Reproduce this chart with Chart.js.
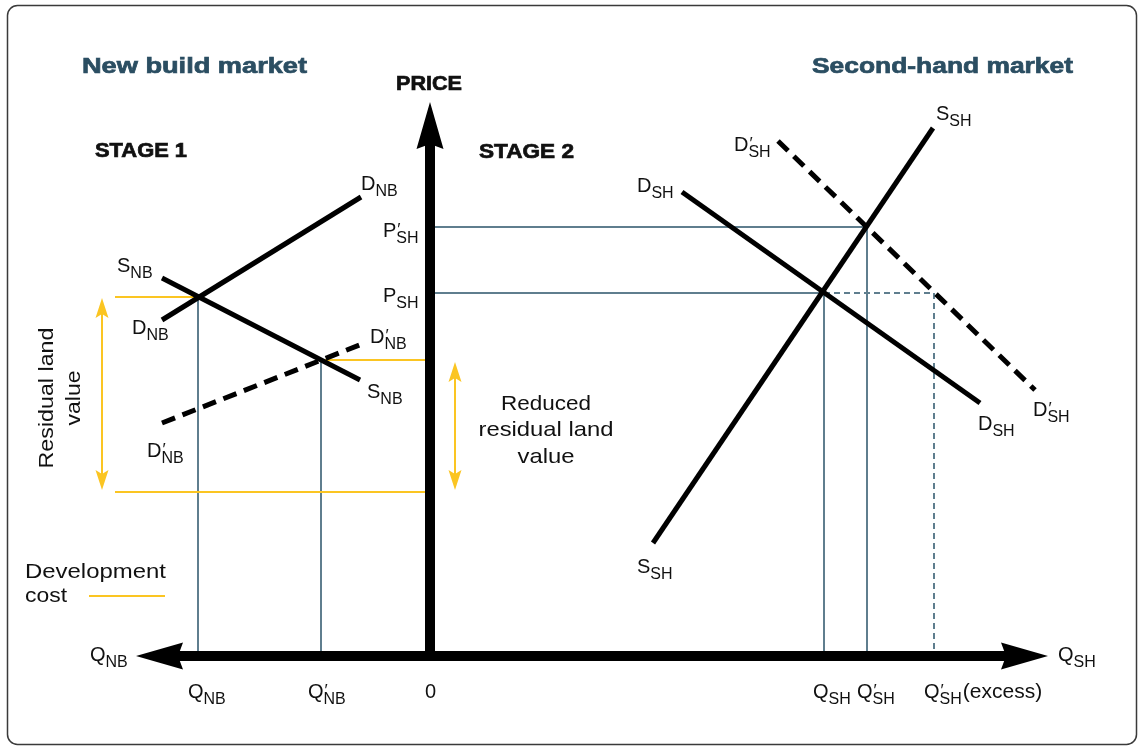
<!DOCTYPE html>
<html lang="en">
<head>
<meta charset="UTF-8">
<title>New build and second-hand housing markets</title>
<script src="https://cdn.jsdelivr.net/npm/chart.js"></script>
<style>
  body { margin: 0; background: #fff; }
  canvas { display: block; }
</style>
</head>
<body>
<canvas id="market" width="1143" height="748"></canvas>
<script>
// x: quantity (new build to the left of 0, second-hand to the right), y: price
const dNB      = [[-268, 336], [-69, 459]];
const sNB      = [[-268, 378], [-70, 276]];
const dNBshift = [[-268, 233], [-68, 312]];
const dSH      = [[252, 464], [550, 253]];
const dSHshift = [[348, 515], [605, 266]];
const sSH      = [[223, 113], [503, 528]];

const eqNB      = [-232, 359];
const eqNBshift = [-109, 296];
const eqSH      = [394, 363];
const eqSHshift = [437, 429];
const qExcess   = 504;
const devCost   = 164;

const axisEnds = { left: -294, right: 618, top: 554 };

const GREY = '#5f7e8e', YELLOW = '#fbc522', INK = '#111', TITLE = '#2b4e62';

const pts = arr => arr.map(([x, y]) => ({ x, y }));
function seg(data, color, width, dash, order) {
  return {
    data: pts(data), showLine: true, borderColor: color, borderWidth: width,
    borderDash: dash || [], pointRadius: 0, order: order, clip: false
  };
}

const datasets = [
  // axes on top
  seg([[axisEnds.left + 40, 0], [axisEnds.right - 40, 0]], '#000', 10, null, 0),
  seg([[0, -5], [0, axisEnds.top - 40]], '#000', 10, null, 0),
  // curves
  seg(dNB, '#000', 5, null, 1),
  seg(sNB, '#000', 5, null, 1),
  seg(dNBshift, '#000', 5, [14, 8], 1),
  seg(dSH, '#000', 5, null, 1),
  seg(dSHshift, '#000', 5, [14, 8], 1),
  seg(sSH, '#000', 5, null, 1),
  // development cost / residual value
  seg([[-315, eqNB[1]], eqNB], YELLOW, 2, null, 2),
  seg([eqNBshift, [-5, eqNBshift[1]]], YELLOW, 2, null, 2),
  seg([[-315, devCost], [-5, devCost]], YELLOW, 2, null, 2),
  seg([[-328, devCost + 14], [-328, eqNB[1] - 14]], YELLOW, 2, null, 2),
  seg([[25, devCost + 14], [25, eqNBshift[1] - 14]], YELLOW, 2, null, 2),
  seg([[-341, 60], [-265, 60]], YELLOW, 2, null, 2),
  // price / quantity guides
  seg([[eqNB[0], 0], eqNB], GREY, 2, null, 3),
  seg([[eqNBshift[0], 0], eqNBshift], GREY, 2, null, 3),
  seg([[0, eqSH[1]], eqSH, [eqSH[0], 0]], GREY, 2, null, 3),
  seg([[0, eqSHshift[1]], eqSHshift, [eqSHshift[0], 0]], GREY, 2, null, 3),
  seg([eqSH, [qExcess, eqSH[1]], [qExcess, 0]], GREY, 2, [6, 4], 3)
];

const curveLabels = [
  { t: 'D', sub: 'NB', at: [-69, 466] },
  { t: 'D', sub: 'NB', at: [-298, 322] },
  { t: 'S', sub: 'NB', at: [-313, 384] },
  { t: 'S', sub: 'NB', at: [-63, 258] },
  { t: 'D', sub: 'NB', prime: true, at: [-60, 313] },
  { t: 'D', sub: 'NB', prime: true, at: [-283, 199] },
  { t: 'P', sub: 'SH', prime: true, at: [-47, 419] },
  { t: 'P', sub: 'SH', at: [-47, 354] },
  { t: 'D', sub: 'SH', at: [207, 464] },
  { t: 'D', sub: 'SH', prime: true, at: [304, 505] },
  { t: 'S', sub: 'SH', at: [506, 536] },
  { t: 'D', sub: 'SH', at: [548, 226] },
  { t: 'D', sub: 'SH', prime: true, at: [603, 240] },
  { t: 'S', sub: 'SH', at: [207, 83] },
  { t: 'Q', sub: 'SH', at: [628, -5] },
  { t: 'Q', sub: 'NB', at: [-340, -5] },
  { t: 'Q', sub: 'NB', at: [-242, -42] },
  { t: 'Q', sub: 'NB', prime: true, at: [-122, -42] },
  { t: '0', at: [-5, -42] },
  { t: 'Q', sub: 'SH', at: [383, -42] },
  { t: 'Q', sub: 'SH', prime: true, at: [427, -42] },
  { t: 'Q', sub: 'SH', prime: true, tail: '(excess)', at: [494, -42] }
];

const texts = [
  { t: 'New build market', at: [-348, 583], w: 225, font: 'bold 22px', color: TITLE, heavy: true },
  { t: 'Second-hand market', at: [382, 583], w: 261, font: 'bold 22px', color: TITLE, heavy: true },
  { t: 'STAGE 1', at: [-335, 499], w: 92, font: 'bold 20px', heavy: true },
  { t: 'STAGE 2', at: [49, 498], w: 95, font: 'bold 20px', heavy: true },
  { t: 'PRICE', at: [-34, 566], w: 66, font: 'bold 20px', heavy: true },
  { t: 'Residual land', at: [-377, 258], w: 141, font: '21px', rotate: true },
  { t: 'value', at: [-350, 258], w: 55, font: '21px', rotate: true },
  { t: 'Reduced', at: [116, 246], w: 90, font: '21px', center: true },
  { t: 'residual land', at: [116, 220], w: 135, font: '21px', center: true },
  { t: 'value', at: [116, 193], w: 57, font: '21px', center: true },
  { t: 'Development', at: [-405, 78], w: 141, font: '21px' },
  { t: 'cost', at: [-405, 54], w: 42, font: '21px' }
];

const FAMILY = "'Liberation Sans', Arial, sans-serif";

function arrowHead(ctx, x, y, dir, len, half, notch, color) {
  ctx.save();
  ctx.translate(x, y);
  ctx.rotate(dir);
  ctx.beginPath();
  ctx.moveTo(0, 0);
  ctx.lineTo(-len, -half);
  ctx.lineTo(-len + notch, 0);
  ctx.lineTo(-len, half);
  ctx.closePath();
  ctx.fillStyle = color;
  ctx.fill();
  ctx.restore();
}

const framePlugin = {
  id: 'frame',
  beforeDraw(chart) {
    const ctx = chart.ctx;
    ctx.save();
    ctx.fillStyle = '#fff';
    ctx.fillRect(0, 0, chart.width, chart.height);
    ctx.beginPath();
    ctx.roundRect(7.5, 5.5, 1129, 739, 10);
    ctx.strokeStyle = '#3a3a3a';
    ctx.lineWidth = 1.5;
    ctx.stroke();
    ctx.restore();
  }
};

const annotatePlugin = {
  id: 'annotate',
  afterDatasetsDraw(chart) {
    const ctx = chart.ctx;
    const X = v => chart.scales.x.getPixelForValue(v);
    const Y = v => chart.scales.y.getPixelForValue(v);

    // axis arrowheads
    arrowHead(ctx, X(axisEnds.left), Y(0), Math.PI, 47, 13.5, 5, '#000');
    arrowHead(ctx, X(axisEnds.right), Y(0), 0, 47, 13.5, 5, '#000');
    arrowHead(ctx, X(0), Y(axisEnds.top), -Math.PI / 2, 47, 13.5, 5, '#000');

    // residual land value arrows
    arrowHead(ctx, X(-328), Y(eqNB[1] - 1), -Math.PI / 2, 20, 6.5, 4, YELLOW);
    arrowHead(ctx, X(-328), Y(devCost + 2), Math.PI / 2, 20, 6.5, 4, YELLOW);
    arrowHead(ctx, X(25), Y(eqNBshift[1] - 2), -Math.PI / 2, 20, 6.5, 4, YELLOW);
    arrowHead(ctx, X(25), Y(devCost + 2), Math.PI / 2, 20, 6.5, 4, YELLOW);

    ctx.save();
    ctx.textBaseline = 'alphabetic';
    ctx.fillStyle = INK;
    curveLabels.forEach(l => {
      let x = X(l.at[0]);
      const y = Y(l.at[1]);
      ctx.font = '20px ' + FAMILY;
      ctx.textAlign = 'left';
      ctx.fillText(l.t, x, y);
      x += ctx.measureText(l.t).width;
      if (l.prime) {
        ctx.font = '17px ' + FAMILY;
        ctx.fillText('\u2032', x + 1, y - 2);
      }
      if (l.sub) {
        ctx.font = '16px ' + FAMILY;
        ctx.fillText(l.sub, x, y + 6);
        x += ctx.measureText(l.sub).width;
      }
      if (l.tail) {
        ctx.font = '21px ' + FAMILY;
        ctx.fillText(l.tail, x + 1, y);
      }
    });

    texts.forEach(s => {
      ctx.font = s.font + ' ' + FAMILY;
      ctx.fillStyle = s.color || INK;
      ctx.strokeStyle = s.color || INK;
      ctx.lineWidth = 0.7;
      const m = ctx.measureText(s.t).width;
      ctx.save();
      ctx.translate(X(s.at[0]), Y(s.at[1]));
      if (s.rotate) ctx.rotate(-Math.PI / 2);
      ctx.scale(s.w / m, 1);
      ctx.textAlign = (s.rotate || s.center) ? 'center' : 'left';
      ctx.fillText(s.t, 0, 0);
      if (s.heavy) ctx.strokeText(s.t, 0, 0);
      ctx.restore();
    });
    ctx.restore();
  }
};

new Chart(document.getElementById('market'), {
  type: 'scatter',
  data: { datasets },
  options: {
    responsive: false,
    animation: false,
    events: [],
    devicePixelRatio: 1,
    layout: { padding: 0 },
    scales: {
      x: { type: 'linear', min: -430, max: 713, display: false },
      y: { type: 'linear', min: -92, max: 656, display: false }
    },
    plugins: { legend: { display: false }, tooltip: { enabled: false } }
  },
  plugins: [framePlugin, annotatePlugin]
});
</script>
</body>
</html>
